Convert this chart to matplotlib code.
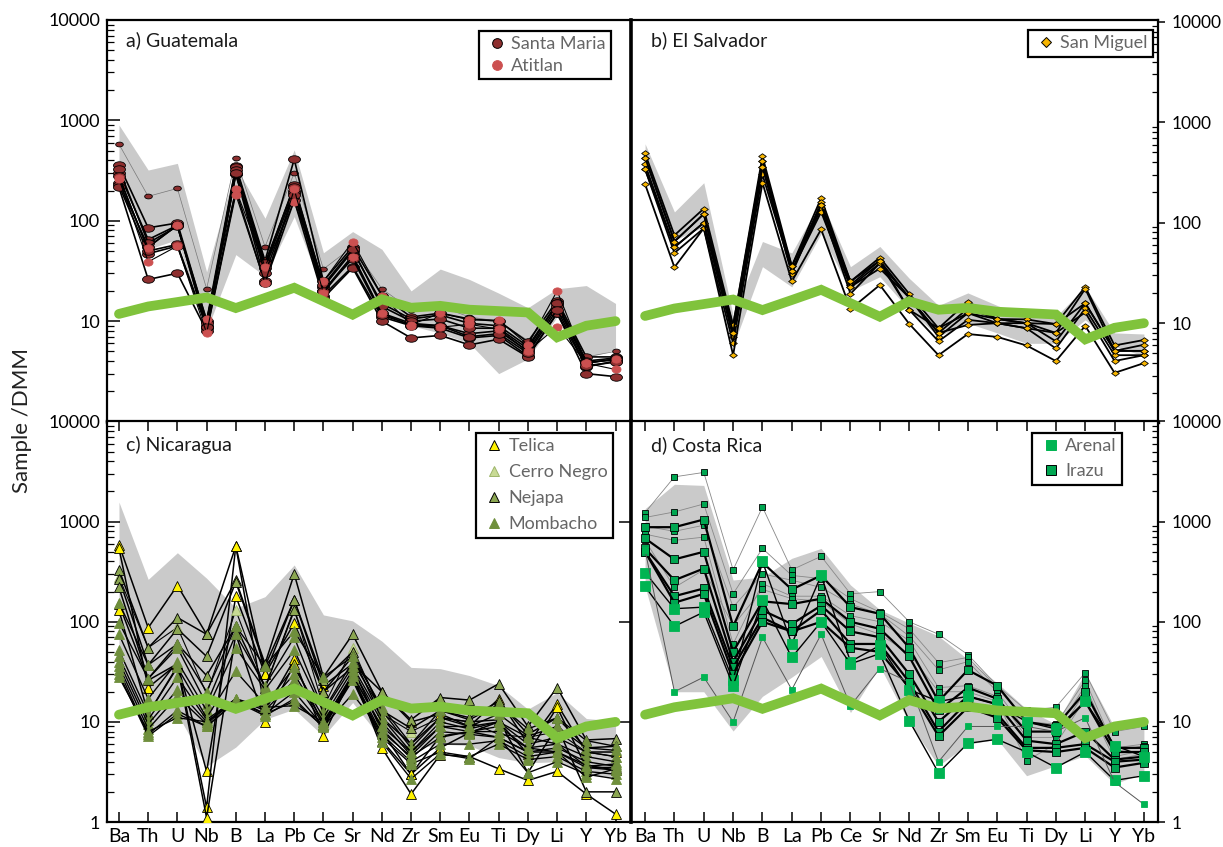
import matplotlib
matplotlib.use("Agg")
import matplotlib.pyplot as plt
from matplotlib.lines import Line2D
from matplotlib.path import Path
from matplotlib.transforms import Affine2D

plt.rcParams['font.family'] = ['Lato', 'DejaVu Sans']

W, H = 1223, 847

elements = ['Ba', 'Th', 'U', 'Nb', 'B', 'La', 'Pb', 'Ce', 'Sr', 'Nd', 'Zr', 'Sm', 'Eu', 'Ti', 'Dy', 'Li', 'Y', 'Yb']
dmm = [11.8, 14, 15.5, 17.2, 13.5, 17, 21.5, 15.8, 11.6, 16.5, 13.6, 14.2, 13, 12.6, 12.2, 6.9, 9, 10]

############ a) Guatemala ############
gua_upper = [900, 320, 373, 31, 345, 106, 508, 48, 78, 52, 20, 33, 26, 19, 13.6, 21, 22.6, 15]
gua_lower = [345, 52, 65, 8, 46, 28, 110, 19, 35, 11, 9, 7.6, 6, 3, 4.2, 11, 4.3, 5.2]
santa_maria_thin = [
    [580, 175, 210, 21, 420, 55, 300, 33, 55, 21, 13, 14, 11, 10, 6.4, 16, 4.4, 5],
]
santa_maria = [
    [360, 85, 95, 10, 350, 40, 410, 25, 55, 18, 11, 12, 10.5, 10, 6.2, 16, 4.4, 4.4],
    [300, 65, 90, 9, 340, 36, 225, 22, 50, 15, 10.5, 11.5, 9.5, 9, 5.6, 15, 4, 4.3],
    [240, 55, 90, 8.5, 290, 34, 200, 20, 45, 12, 9.5, 9, 7.5, 8, 5, 14, 3.8, 4.2],
    [225, 47, 56, 8.7, 295, 25, 190, 18, 35, 11, 9, 8.5, 6.8, 7.2, 4.5, 12, 3.5, 4],
    [215, 26, 30, 8, 200, 24, 160, 17, 34, 10, 6.8, 7.2, 5.8, 6.6, 4.4, 12, 3, 2.8],
    [330, 60, 88, 9.5, 320, 38, 215, 23, 52, 14, 10, 10.5, 8.5, 8.5, 5.3, 15, 3.9, 4.1],
    [280, 50, 58, 8.8, 300, 30, 180, 20, 42, 11.5, 9.2, 9, 7, 7.5, 4.8, 13, 3.6, 3.9],
]
atitlan = [
    [265, 54, 90, 10.5, 205, 35, 155, 25, 62, 18, 9.2, 12, 10.3, 10.2, 5.8, 20, 3.8, 4.2],
    [260, 39, 56, 7.6, 182, 24, 205, 19, 44, 12, 9, 8.7, 9.3, 8.3, 5, 8.8, 3.8, 3.3],
]

############ b) El Salvador ############
sal_upper = [610, 128, 250, 12, 65, 50, 167, 36.5, 58, 28, 15, 20, 15, 11.6, 11.6, 23, 8, 7.8]
sal_lower = [310, 67, 91, 5.9, 36.5, 23, 78, 21, 29, 13.6, 7.4, 10, 8, 6.3, 6.3, 10.8, 5.9, 4.7]
san_miguel = [
    [489, 75, 138, 9.5, 459, 37, 176, 26, 45, 19.6, 8.9, 16.4, 11, 10.9, 9.8, 23, 6, 6.8],
    [445, 65, 122, 8, 413, 33, 160, 24, 42, 18, 8, 14, 11, 10, 8, 22, 5.3, 6.1],
    [380, 57, 100, 7.3, 360, 31, 150, 23, 39.5, 18, 7.3, 12.6, 10, 10, 6.6, 15.8, 5.3, 5.3],
    [341, 50, 88, 6.3, 302, 33, 139, 19.6, 39.5, 13.6, 6.6, 10.8, 10, 8.9, 5.6, 14, 4.8, 4.8],
    [242, 36, 88, 4.8, 250, 26, 86, 13.8, 24, 9.85, 4.8, 7.8, 7.3, 6, 4.2, 9.4, 3.2, 4],
    [341, 57, 100, 9.5, 413, 33, 128, 23, 35, 18, 8, 9.6, 10, 8.9, 8, 12.8, 4.2, 4.8],
    [445, 65, 122, 8, 360, 37, 150, 26, 42, 13.6, 8.9, 12.6, 11, 10, 9.8, 15.8, 5.3, 5.3],
]

############ c) Nicaragua ############
nic_upper = [1568, 265, 489, 272, 137, 178, 369, 117, 102, 64, 35, 34, 29, 23, 13.4, 19.6, 10.8, 10.2]
nic_lower = [28, 7.8, 12, 3.6, 5.6, 10.6, 13.4, 7.2, 15.6, 6.7, 5.3, 6, 5.8, 4.4, 3.9, 4, 3, 2.8]
telica = [
    [590, 87, 230, 75, 570, 30, 165, 23, 38, 20, 10, 12, 9, 17, 6, 15, 5, 5],
    [540, 22, 38, 3.2, 180, 30, 97, 20, 35, 8, 3, 5.5, 7.8, 10, 4.8, 14, 3.5, 3.5],
    [150, 26, 38, 1.4, 570, 13, 42, 7.3, 30, 5.5, 1.9, 4.7, 4.5, 3.4, 2.6, 3.2, 1.9, 1.2],
    [130, 12, 36, 1.1, 75, 10, 38, 9.3, 27, 6.5, 3, 7.2, 8, 7, 5, 5, 3.7, 3.3],
]
cerro_negro = [
    [280, 55, 88, 19, 130, 22, 135, 14, 55, 12, 8, 11, 10, 7.5, 7, 8, 5, 4.5],
]
nejapa = [
    [330, 55, 110, 75, 260, 38, 300, 28, 75, 20, 10.5, 17.5, 16.5, 24, 9, 22, 6.6, 6.8],
    [270, 37, 85, 45, 250, 36, 165, 26, 50, 13, 8.6, 13, 11, 16, 7.5, 11, 5.5, 5.7],
    [220, 27, 60, 29, 90, 22, 130, 20, 45, 11, 6, 11, 10, 10.5, 3.1, 9, 2, 2],
]
mombacho = [
    [155, 37, 60, 20, 90, 36, 80, 28, 45, 14, 6, 13, 10.5, 15, 8.5, 11, 6.5, 5.7],
    [98, 27, 55, 15, 75, 23, 70, 13, 40, 13, 5.5, 11, 9, 12, 7.2, 9, 5.5, 5.2],
    [75, 17, 40, 13, 55, 21, 52, 12.5, 36, 11, 5, 10, 8.5, 10, 6, 7, 5, 4.5],
    [52, 12, 35, 11, 32, 15, 35, 11, 33, 10, 4.6, 9, 8, 9, 5.5, 6, 4.5, 4],
    [45, 10.5, 28, 10.5, 17, 14, 30, 10, 30, 8.5, 4.3, 8, 7.5, 7, 5, 5.5, 4, 3.6],
    [40, 9.5, 21, 10, 17, 13, 26, 9.5, 28, 7.5, 4, 6, 6, 6.5, 4.5, 5, 3.5, 3.3],
    [36, 8.5, 18, 9.5, 17, 12, 20, 9, 27, 7, 3.8, 5, 4.5, 6, 4.2, 4.5, 3.2, 3],
    [33, 7.5, 13, 9, 16, 11.5, 17, 8.8, 26, 6.3, 2.7, 4.8, 4.3, 7, 3.1, 4, 3, 2.7],
    [30, 7.2, 12, 9, 16, 12, 16, 9, 19, 8, 4.5, 7, 8, 8, 5.5, 5, 2.8, 3.4],
    [28, 8, 11, 10, 16, 14, 14.5, 10, 29, 9, 5, 9, 9, 10, 7, 6, 3.6, 3.8],
]

############ d) Costa Rica ############
cos_upper = [1347, 2360, 2300, 261, 280, 430, 540, 233, 132, 97, 72, 42, 24.5, 13.4, 9.5, 31, 8.8, 8.8]
cos_lower = [225, 20, 20, 8.1, 18, 28, 45, 12.4, 36, 9.8, 3.65, 6, 6.7, 2.9, 3.65, 4.6, 2.4, 3.1]
irazu_thin = [
    [1230, 2800, 3100, 330, 1400, 330, 450, 190, 200, 100, 75, 47, 23, 13, 14, 31, 8, 9],
    [1100, 1250, 1500, 190, 540, 290, 270, 170, 125, 85, 39, 44, 22, 10, 9.5, 26, 5.5, 6],
    [900, 800, 920, 140, 300, 260, 220, 150, 120, 72, 33, 40, 20, 8, 8, 23, 5, 5.8],
    [750, 650, 700, 60, 240, 180, 180, 115, 100, 65, 22, 23, 18, 7, 7, 20, 4.5, 5.2],
    [650, 220, 330, 92, 210, 170, 160, 95, 75, 48, 20, 20, 16, 4.1, 6, 17, 4.2, 4.8],
]
irazu = [
    [880, 880, 1050, 90, 390, 210, 290, 140, 120, 55, 16, 33, 23, 10, 9, 20, 5.5, 5.5],
    [680, 420, 500, 50, 160, 150, 170, 100, 85, 45, 13, 22, 17, 8, 8, 16, 5, 5],
    [540, 260, 340, 40, 130, 95, 145, 80, 70, 30, 10, 18, 15, 6.5, 6, 8, 4.2, 4.5],
    [500, 180, 215, 35, 110, 80, 130, 60, 60, 25, 8, 16, 12, 5.5, 5.5, 6, 4, 4.2],
    [500, 155, 190, 30, 100, 80, 100, 55, 50, 22, 7.2, 14, 11, 5.2, 5, 5.5, 3.5, 3.9],
]
arenal = [
    [310, 135, 140, 26, 400, 60, 290, 40, 58, 21, 16, 18, 15, 10, 8.5, 16, 5.8, 4.5],
    [225, 90, 125, 23, 165, 44, 100, 38, 48, 10.3, 3.1, 6.1, 6.7, 5, 3.5, 5, 2.6, 2.9],
]
arenal_thin = [
    [520, 20, 28, 10, 70, 21, 75, 14.5, 34, 25, 4, 9, 9, 9, 8, 11, 2.5, 1.5],
]

GREY = '#cacaca'
ellipse = Path.unit_circle().transformed(Affine2D().scale(1.6, 1))
ellipse_b = Path.unit_circle().transformed(Affine2D().scale(1.25, 1))
rombo = Path([(-1, 0), (0, 0.72), (1, 0), (0, -0.72), (-1, 0)], closed=True)
x = list(range(len(elements)))


def panel(left, top, right, bottom, xlim, ylim):
    '''ejes en pixeles de la imagen'''
    ax = fig.add_axes([left/W, 1-bottom/H, (right-left)/W, (bottom-top)/H])
    ax.set_yscale('log')
    ax.set_xlim(*xlim)
    ax.set_ylim(*ylim)
    ax.set_xticks(x)
    ax.set_xticklabels([])
    for s in ax.spines.values():
        s.set_linewidth(1.6)
    ax.tick_params(axis='both', which='major', length=9, width=1.1, direction='in')
    ax.tick_params(axis='y', which='minor', length=5, width=0.9, direction='in')
    return ax


def draw_group(ax, group, marker, face, edge, ms, lw=1.0, lc='black', mew=0.6):
    for row in group:
        ax.plot(x, row, color=lc, lw=lw, marker=marker, mfc=face, mec=edge, ms=ms, mew=mew,
                zorder=3)


def finish(ax, upper, lower):
    ax.fill_between(x, lower, upper, color=GREY, lw=0, zorder=1)
    ax.plot(x, dmm, color='#80c33c', lw=7, solid_capstyle='round', solid_joinstyle='miter', zorder=5)


def add_legend(ax, handles, labels, right, top, spacing, pad=0.2):
    leg = ax.legend(handles, labels, loc='upper right', bbox_to_anchor=(right/W, 1-top/H),
                    bbox_transform=fig.transFigure, borderaxespad=0, fancybox=False,
                    framealpha=1, edgecolor='black', fontsize=13, labelcolor='#666666',
                    handletextpad=0.1, handlelength=1.4, borderpad=pad, labelspacing=spacing)
    leg.get_frame().set_linewidth(1.6)
    leg.set_zorder(6)


def handle(marker, face, edge, ms):
    return Line2D([], [], ls='none', marker=marker, mfc=face, mec=edge, ms=ms, mew=0.7)


fig = plt.figure(figsize=(W/100, H/100), dpi=100)

xlim_l = (-0.41, 17.53)
xlim_r = (-0.48, 17.48)
ax_a = panel(107, 20, 631, 421.5, xlim_l, (1, 10000))
ax_b = panel(631, 20, 1158, 421.5, xlim_r, (1.05, 10420))
ax_c = panel(107, 421.5, 631, 822, xlim_l, (1, 10000))
ax_d = panel(631, 421.5, 1158, 822, xlim_r, (1, 10000))

# panel a
draw_group(ax_a, santa_maria_thin, ellipse, '#8e2f2f', 'black', 5.5, lw=0.5, lc='#777777')
draw_group(ax_a, santa_maria, ellipse, '#8e2f2f', 'black', 8.6, lw=1.2)
draw_group(ax_a, atitlan, ellipse_b, '#cc5050', '#cc5050', 6.5, lw=0.8)
finish(ax_a, gua_upper, gua_lower)
add_legend(ax_a, [handle('o', '#8e2f2f', 'black', 7), handle('o', '#cc5050', '#cc5050', 7)],
           ['Santa Maria', 'Atitlan'], 611, 31, 0.3, pad=0.3)

# panel b
draw_group(ax_b, san_miguel, rombo, '#f7b500', 'black', 5.5, lw=1.3)
finish(ax_b, sal_upper, sal_lower)
add_legend(ax_b, [handle('D', '#f7b500', 'black', 5)], ['San Miguel'], 1153, 30, 0.1, pad=0.3)

# panel c
draw_group(ax_c, telica, '^', '#fff200', 'black', 6.5, lw=1.1)
draw_group(ax_c, cerro_negro, '^', '#c8da94', '#9db56a', 6.5, lw=0.8)
draw_group(ax_c, nejapa, '^', '#8ba651', 'black', 6.5, lw=1.1)
draw_group(ax_c, mombacho, '^', '#6f8f3c', '#6f8f3c', 6.5, lw=1.0)
finish(ax_c, nic_upper, nic_lower)
add_legend(ax_c, [handle('^', '#fff200', 'black', 7), handle('^', '#c8da94', '#9db56a', 7),
                  handle('^', '#8ba651', 'black', 7), handle('^', '#6f8f3c', '#6f8f3c', 7)],
           ['Telica', 'Cerro Negro', 'Nejapa', 'Mombacho'], 613, 433, 0.55, pad=0.3)

# panel d
draw_group(ax_d, irazu_thin, 's', '#00a651', 'black', 3.8, lw=0.6, lc='#888888')
draw_group(ax_d, irazu, 's', '#00a651', 'black', 6, lw=1.6)
draw_group(ax_d, arenal, 's', '#00b452', '#00b452', 7.5, lw=1.0)
draw_group(ax_d, arenal_thin, 's', '#00b452', '#00b452', 4, lw=0.7, lc='#555555')
finish(ax_d, cos_upper, cos_lower)
add_legend(ax_d, [handle('s', '#00b452', '#00b452', 7), handle('s', '#00a651', 'black', 7)],
           ['Arenal', 'Irazu'], 1122, 433, 0.5, pad=0.3)

# ticks y etiquetas
yvals = [10, 100, 1000, 10000]
for ax in (ax_a, ax_c):
    ax.set_yticks(yvals if ax is ax_a else [1] + yvals)
    ax.set_yticklabels(['10', '100', '1000', '10000'] if ax is ax_a else ['1', '10', '100', '1000', '10000'])
    ax.tick_params(axis='y', which='major', labelsize=13, pad=5)
for ax in (ax_b, ax_d):
    ax.yaxis.tick_right()
    ax.set_yticks(yvals if ax is ax_b else [1] + yvals)
    ax.set_yticklabels(['10', '100', '1000', '10000'] if ax is ax_b else ['1', '10', '100', '1000', '10000'])
    ax.tick_params(axis='y', which='major', direction='out', length=5, labelsize=12.5, pad=5)
    ax.tick_params(axis='y', which='minor', direction='in', length=4, labelleft=False, labelright=False)
    ax.spines['left'].set_linewidth(2.6)
for ax in (ax_a, ax_b):
    ax.tick_params(axis='x', bottom=False)
ax_a.spines['bottom'].set_linewidth(2.4)
ax_b.spines['bottom'].set_linewidth(2.4)
for ax in (ax_c, ax_d):
    ax.tick_params(axis='x', top=True, length=7, labelsize=14, pad=4)
    ax.set_xticklabels(elements)

ax_c.tick_params(axis='y', which='major', right=True)
ax_c.tick_params(axis='y', which='minor', right=False)

for ax, title in ((ax_a, 'a) Guatemala'), (ax_b, 'b) El Salvador'), (ax_c, 'c) Nicaragua'), (ax_d, 'd) Costa Rica')):
    x0 = 126 if ax in (ax_a, ax_c) else 651
    y0 = 40 if ax in (ax_a, ax_b) else 445
    fig.text(x0/W, 1-y0/H, title, fontsize=14, color='#1a1a1a', va='center', ha='left')

fig.text(22/W, 1-420/H, 'Sample /DMM', rotation=90, fontsize=16, color='#222222', va='center', ha='center')

plt.savefig('out.png', dpi=100)
